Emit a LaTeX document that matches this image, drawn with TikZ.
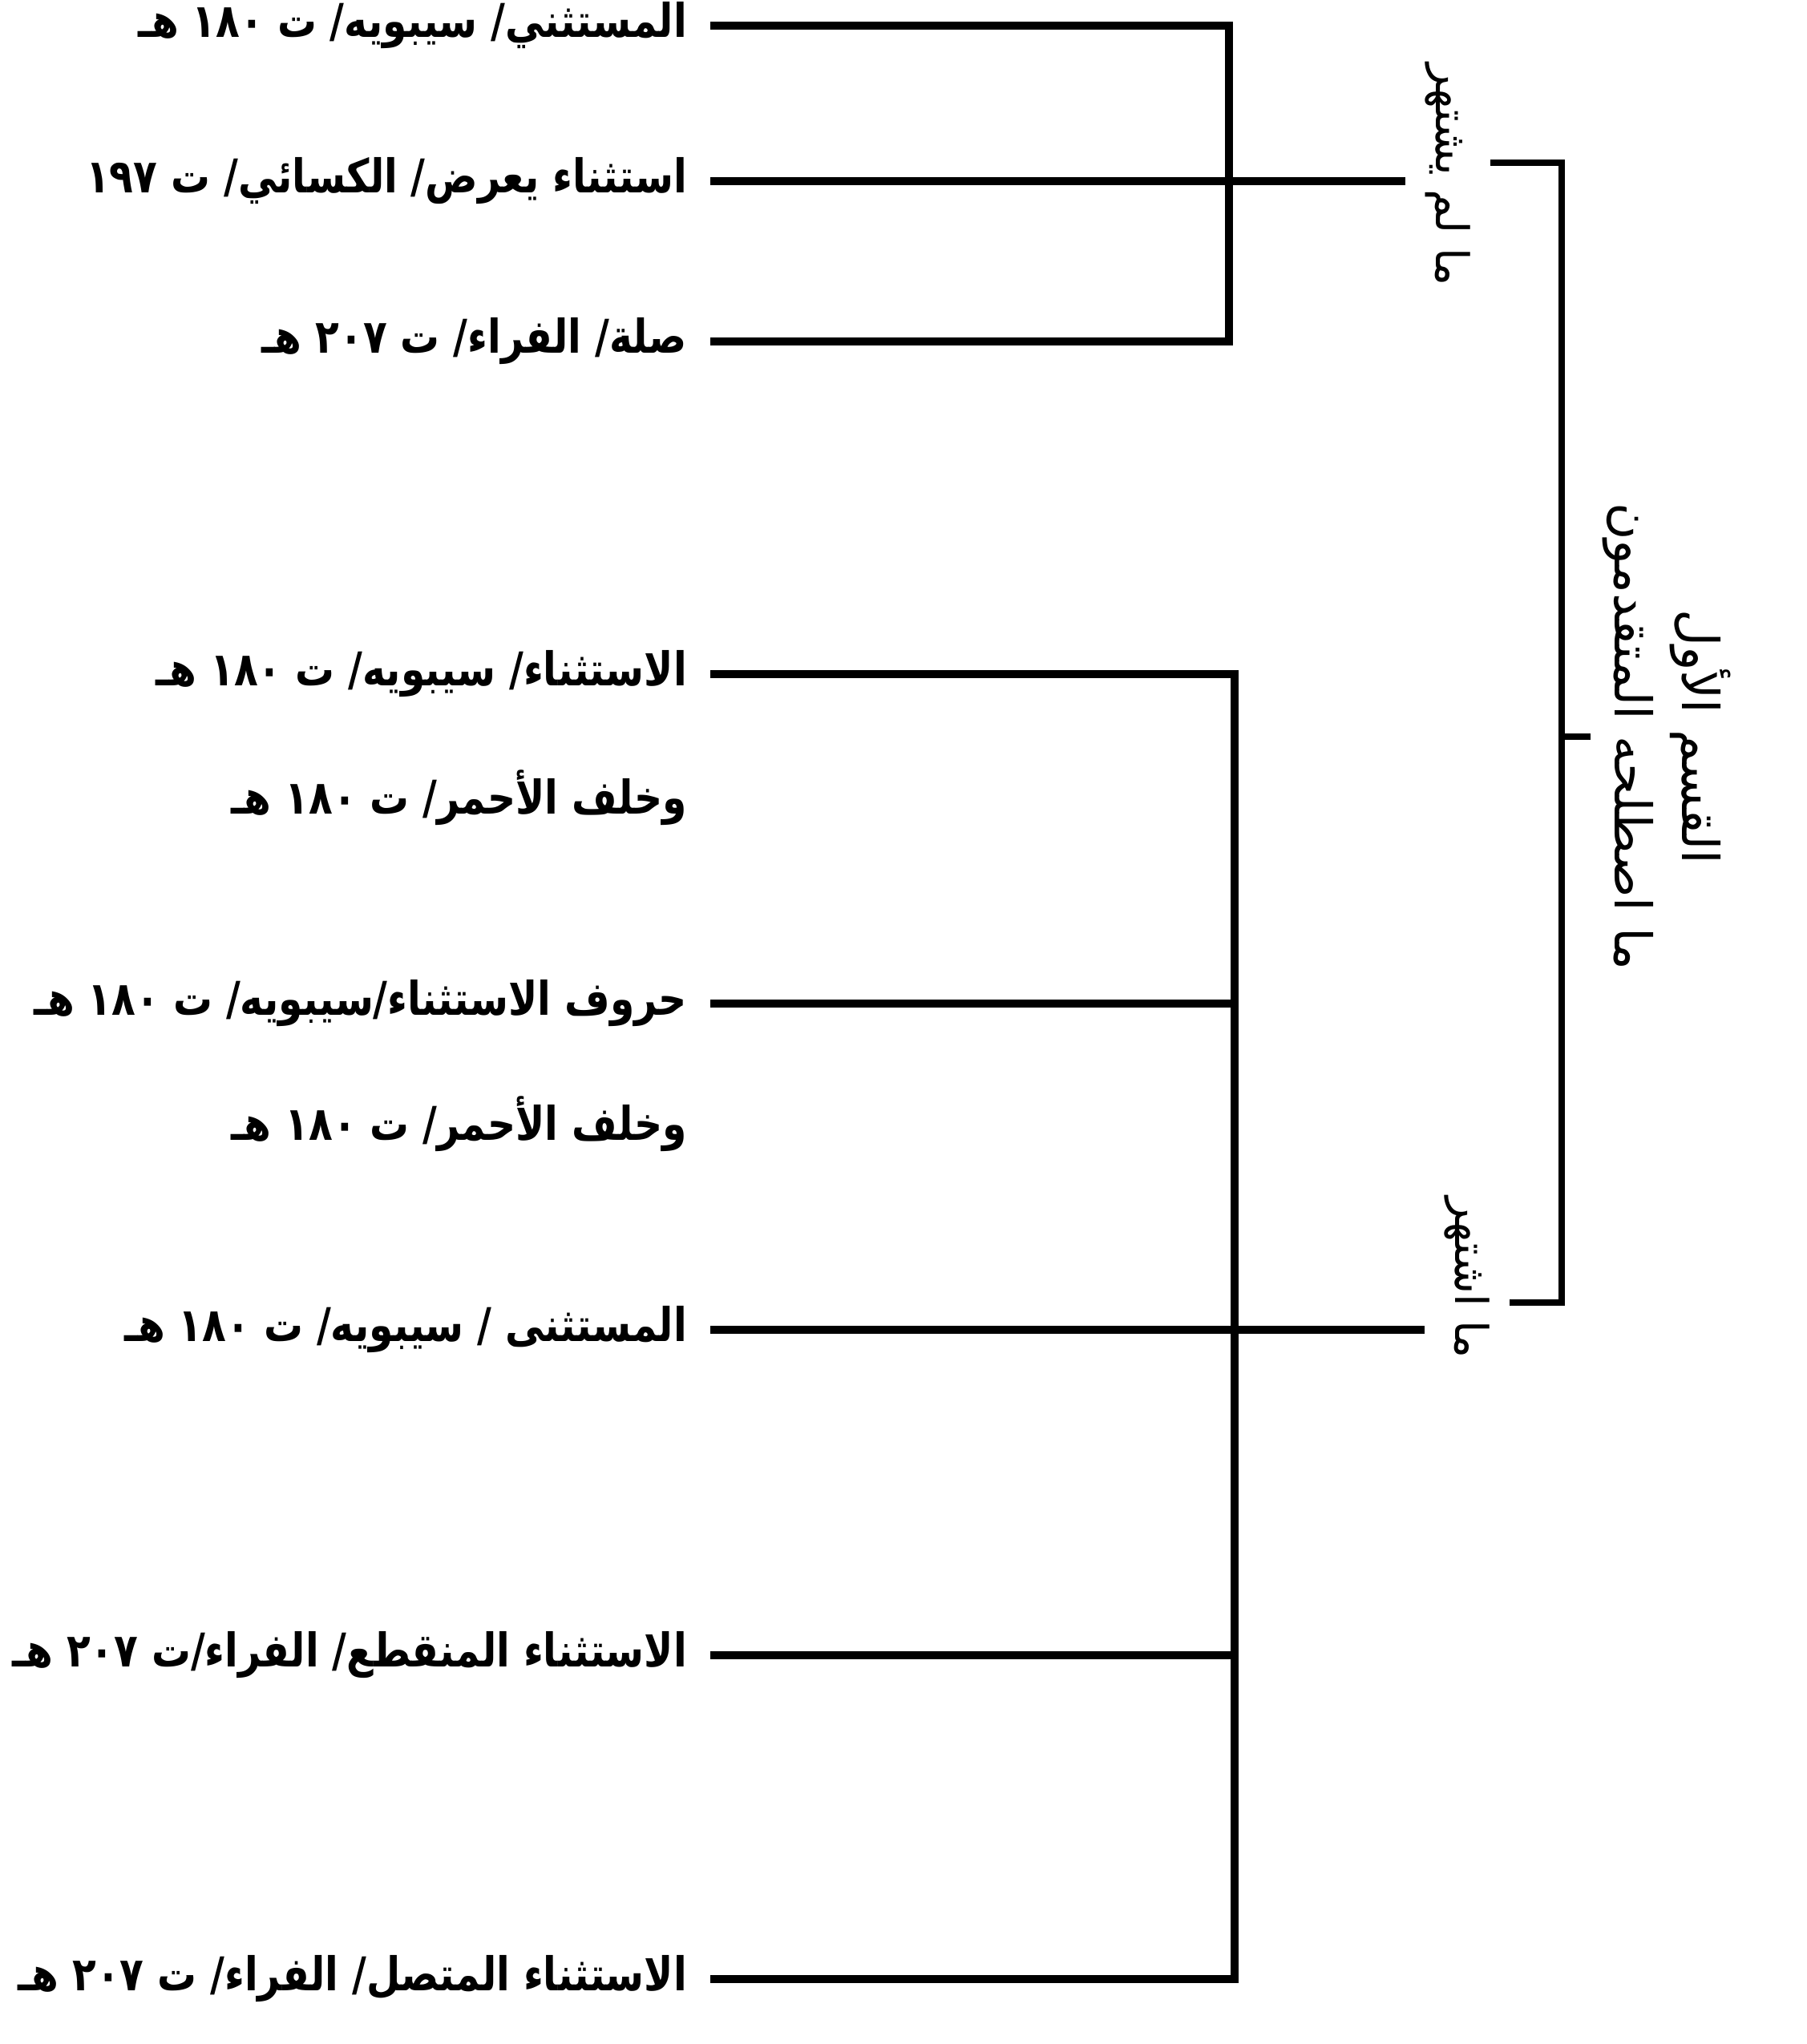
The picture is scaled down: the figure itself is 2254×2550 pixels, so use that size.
\documentclass[tikz,border=0pt]{standalone}
\usepackage{fontspec}
\newfontfamily\arabicfont[Script=Arabic, FakeStretch=0.84]{DejaVu Sans}
\newfontfamily\arabiclabel[Script=Arabic]{DejaVu Sans}
\TeXXeTstate=1
\newcommand{\artxt}[1]{\beginR#1\endR}

\begin{document}
\begin{tikzpicture}[x=0.01cm, y=-0.01cm, line width=2.8pt,
	entry/.style={anchor=east, inner xsep=0.24cm, font=\arabicfont\bfseries\fontsize{16.5}{20}\selectfont},
	sidelabel/.style={rotate=-90, inner sep=0.2cm, font=\arabiclabel\fontsize{16}{18}\selectfont},
	heading/.style={rotate=-90, align=center, anchor=south, inner sep=0.1cm, font=\arabiclabel\fontsize{18}{24}\selectfont}]
	\useasboundingbox (0,0) rectangle (2254,2550);

	\coordinate (vtop) at (1533, 0);
	\coordinate (vbot) at (1540, 0);
	\coordinate (tr) at (1948, 203);
	\coordinate (br) at (1948, 1625);

	\node[entry] at (886, 32)   (t1) {\artxt{المستثني/ سيبويه/ ت ١٨٠ هـ}};
	\node[entry] at (886, 226)  (t2) {\artxt{استثناء يعرض/ الكسائي/ ت ١٩٧}};
	\node[entry] at (886, 426)  (t3) {\artxt{صلة/ الفراء/ ت ٢٠٧ هـ}};
	\draw (t1.east) -- (t1.east -| vtop) -- (t3.east -| vtop) -- (t3.east);

	\node[sidelabel] at (1806, 218) (lbl1) {\artxt{ما لم يشتهر}};
	\draw (t2.east) -- (t2.east -| lbl1.south);

	\node[entry] at (886, 841)  (t4) {\artxt{الاستثناء/ سيبويه/ ت ١٨٠ هـ}};
	\node[entry] at (886, 995)  (t5) {\artxt{وخلف الأحمر/ ت ١٨٠ هـ}};
	\node[entry] at (886, 1252) (t6) {\artxt{حروف الاستثناء/سيبويه/ ت ١٨٠ هـ}};
	\node[entry] at (886, 1402) (t7) {\artxt{وخلف الأحمر/ ت ١٨٠ هـ}};
	\node[entry] at (886, 1659) (t8) {\artxt{المستثنى / سيبويه/ ت ١٨٠ هـ}};
	\node[entry] at (886, 2065) (t9) {\artxt{الاستثناء المنقطع/ الفراء/ت ٢٠٧ هـ}};
	\node[entry] at (886, 2469) (t10) {\artxt{الاستثناء المتصل/ الفراء/ ت ٢٠٧ هـ}};
	\draw (t4.east) -- (t4.east -| vbot) -- (t10.east -| vbot) -- (t10.east);
	\draw (t6.east) -- (t6.east -| vbot);
	\draw (t9.east) -- (t9.east -| vbot);

	\node[sidelabel] at (1830, 1594) (lbl2) {\artxt{ما اشتهر}};
	\draw (t8.east) -- (t8.east -| lbl2.south);

	\draw[line width=2.4pt] (lbl1.north |- tr) -- (tr) -- (br) -- (lbl2.north |- br);

	\node[heading] at (1984, 919) (head) {\artxt{القسم الأول}\\ \artxt{ما اصطلحه المتقدمون}};
	\draw[line width=2.4pt] (head.south -| tr) -- (head.south);
\end{tikzpicture}
\end{document}
